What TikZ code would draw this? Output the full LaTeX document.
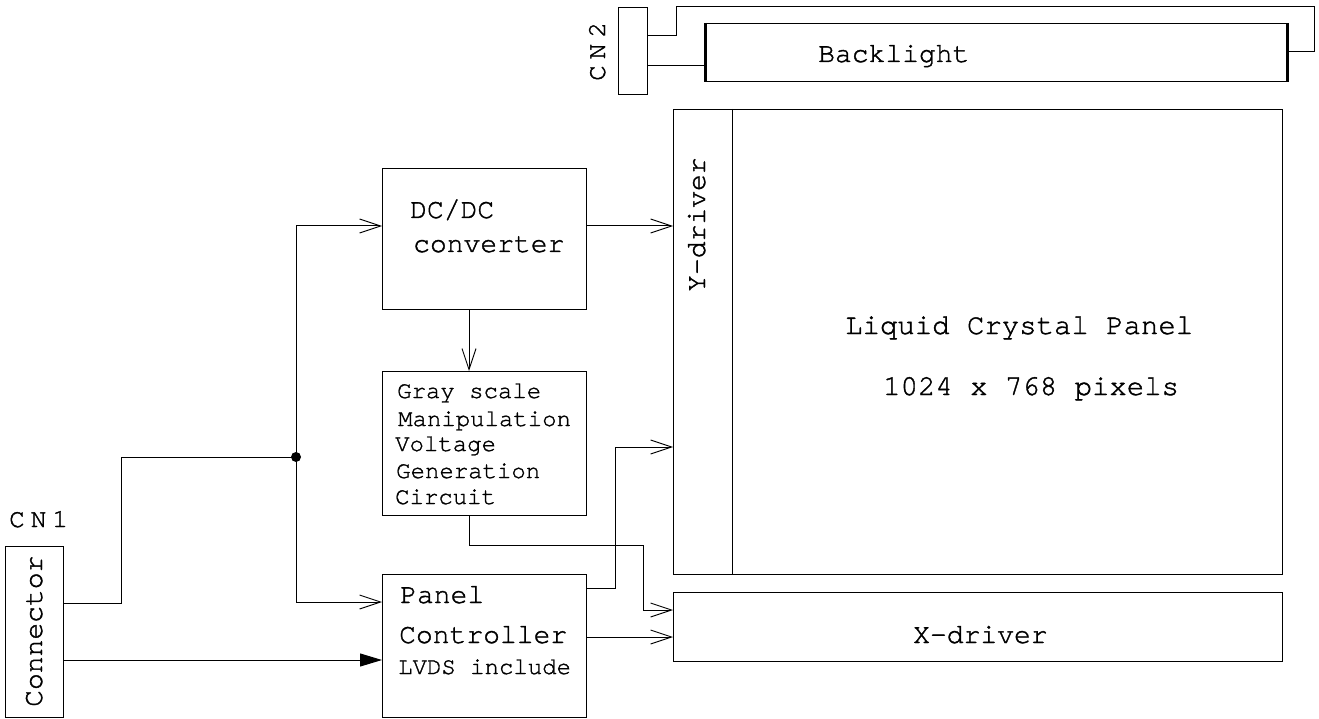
\documentclass[tikz,border=0pt]{standalone}
\usepackage{fontspec}
\setmainfont{TeX Gyre Cursor}[FakeBold=1.3]
\usetikzlibrary{arrows.meta}
\newcommand{\fsz}[1]{\fontsize{#1}{#1}\selectfont}
\tikzset{
  box/.style={draw, line width=1pt, inner sep=0pt, anchor=north west},
  txt/.style={inner sep=0pt, anchor=base west},
  wire/.style={line width=1pt},
  open/.style={wire, -{Straight Barb[length=21pt,width=14pt,line width=0.9pt]}},
  filled/.style={wire, -{Triangle[length=22pt,width=13pt]}},
}
\begin{document}
\begin{tikzpicture}[x=1pt,y=-1pt]
\path[use as bounding box] (0,0) rectangle (1319,719);

% boxes
\node[box, minimum width=29pt, minimum height=87pt] (CN2) at (618,7) {};
\node[box, minimum width=581pt, minimum height=58pt] (BL) at (705,23) {};
\node[box, minimum width=609pt, minimum height=465pt] (LC) at (673,109) {};
\node[box, minimum width=609pt, minimum height=69pt] (XD) at (673,592) {};
\node[box, minimum width=204pt, minimum height=141pt] (DC) at (382,168) {};
\node[box, minimum width=204pt, minimum height=144pt] (GS) at (382,371) {};
\node[box, minimum width=204pt, minimum height=143pt] (PC) at (382,574) {};
\node[box, minimum width=58pt, minimum height=171pt] (CON) at (5,546) {};

% thick ends of backlight, Y-driver divider
\draw[line width=3pt] (BL.north west) -- (BL.south west);
\draw[line width=3pt] (BL.north east) -- (BL.south east);
\draw[wire] (LC.north -| 732,0) -- (LC.south -| 732,0);

% texts
\node[txt, rotate=90] (tCN2) at (605,81) {\fsz{26}\spaceskip=6pt C N 2};
\node[txt] (tBL) at (818,62) {\fsz{28}Backlight};
\node[txt, rotate=90] (tYD) at (705,292) {\fsz{28}Y-driver};
\node[txt] (tLC1) at (845,334) {\fsz{29}Liquid Crystal Panel};
\node[txt] (tLC2) at (883,395) {\fsz{29}1024 x 768 pixels};
\node[txt] (tXD) at (913,643) {\fsz{28}X-driver};
\node[txt] (tDC1) at (410,218) {\fsz{28}DC/DC};
\node[txt] (tDC2) at (413,252) {\fsz{28}converter};
\node[txt] (tG1) at (397,398) {\fsz{24}Gray scale};
\node[txt] (tG2) at (398,426) {\fsz{24}Manipulation};
\node[txt] (tG3) at (395,451) {\fsz{24}Voltage};
\node[txt] (tG4) at (396,478) {\fsz{24}Generation};
\node[txt] (tG5) at (395,504) {\fsz{24}Circuit};
\node[txt] (tP1) at (400,603) {\fsz{28}Panel};
\node[txt] (tP2) at (399,643) {\fsz{28}Controller};
\node[txt] (tP3) at (398,674) {\fsz{24}LVDS include};
\node[txt] (tCN1) at (9,527) {\fsz{26}\spaceskip=6pt C N 1};
\node[txt, rotate=90] (tCON) at (42,707) {\fsz{28}Connector};

% connectors
\coordinate (J) at (296,457);
\draw[wire] (CON.east |- 0,603) -| (121,457) -- (J);
\fill (J) circle (5pt);
\draw[open] (J) |- (DC.west |- 0,226);
\draw[open] (J) |- (PC.west |- 0,602);
\draw[filled] (CON.east |- 0,660) -- (PC.west |- 0,660);
\draw[open] (DC.east |- 0,226) -- (LC.west |- 0,226);
\draw[open] (DC.south -| 469,0) -- (GS.north -| 469,0);
\draw[open] (GS.south -| 469,0) |- (643,545) |- (XD.west |- 0,610);
\draw[open] (PC.east |- 0,588) -| (615,447) -- (LC.west |- 0,447);
\draw[open] (PC.east |- 0,637) -- (XD.west |- 0,637);
\draw[wire] (CN2.east |- 0,36) -| (676,7) -| (1314,52) -- (BL.east |- 0,52);
\draw[wire] (CN2.east |- 0,66) -- (BL.west |- 0,66);
\end{tikzpicture}
\end{document}
